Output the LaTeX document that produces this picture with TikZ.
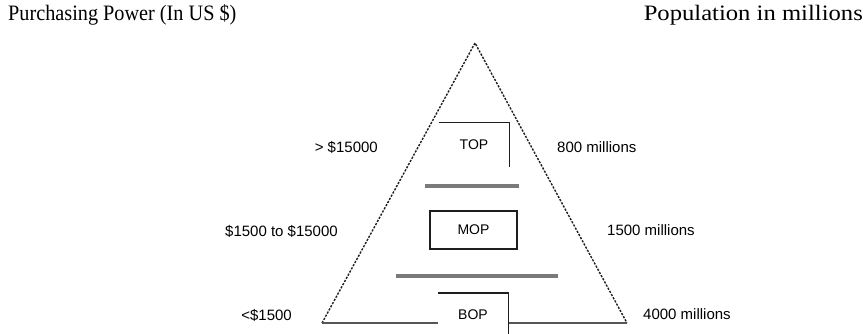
\documentclass[tikz,border=0pt]{standalone}
\usepackage{fontspec}
\setmainfont{Liberation Serif}
\setsansfont{Liberation Sans}
\usetikzlibrary{positioning}
\definecolor{ink}{HTML}{1E1E1E}
\definecolor{bargray}{HTML}{7A7A7A}
\tikzset{sideedge/.style={draw=ink,dash pattern=on 2.2pt off 1.4pt,line width=1.4pt},baseedge/.style={draw=ink!75,line width=1.6pt},levelbar/.style={draw=bargray,line width=3.4pt},levelbox/.style={inner sep=0pt,font=\sffamily\fontsize{14}{16}\selectfont},frameline/.style={draw=ink,line width=1.4pt},figtitle/.style={font=\fontsize{22}{26}\selectfont,inner sep=0pt},sidelabel/.style={font=\sffamily\fontsize{15}{17}\selectfont,inner sep=0pt}}

\begin{document}
\begin{tikzpicture}[x=1pt,y=-1pt]
\useasboundingbox (0,0) rectangle (867,334);
\node[figtitle,anchor=base west] (pptitle) at (8,21) {\scalebox{0.92}[1]{Purchasing Power (In US \$)}};
\node[figtitle,anchor=base east] (poptitle) at (863,21) {\scalebox{1.12}[1]{Population in millions}};
% pyramid
\coordinate (apex) at (475,43);
\coordinate (bl) at (322,323);
\coordinate (br) at (627,323);
\draw[sideedge] (bl)--(apex)--(br);
\draw[baseedge] (bl)--(br);
\draw[levelbar] (425,186)--(519,186);
\draw[levelbar] (396,276)--(558,276);
% levels
\node[levelbox,minimum width=70pt,minimum height=44pt] (top) at (474,145) {TOP};
\draw[frameline] (top.north west)--(top.north east)--(top.south east);
\node[levelbox,draw=ink,line width=1.4pt,minimum width=87pt,minimum height=38pt] (mop) at (473.5,230) {MOP};
\node[levelbox,fill=white,minimum width=70pt,minimum height=43pt] (bop) at (473,314.5) {BOP};
\draw[frameline] (bop.north west)--(bop.north east)--(bop.south east);
% side labels
\node[sidelabel,anchor=east] (hi) at (378,147) {> \$15000};
\node[sidelabel,anchor=east] (mid) at (338,231) {\$1500 to \$15000};
\node[sidelabel,anchor=east] (lo) at (292,315) {<\$1500};
\node[sidelabel,anchor=west] (hipop) at (557,147) {800 millions};
\node[sidelabel,anchor=west] (midpop) at (607,230) {1500 millions};
\node[sidelabel,anchor=west] (lopop) at (643,314) {4000 millions};
\end{tikzpicture}
\end{document}
